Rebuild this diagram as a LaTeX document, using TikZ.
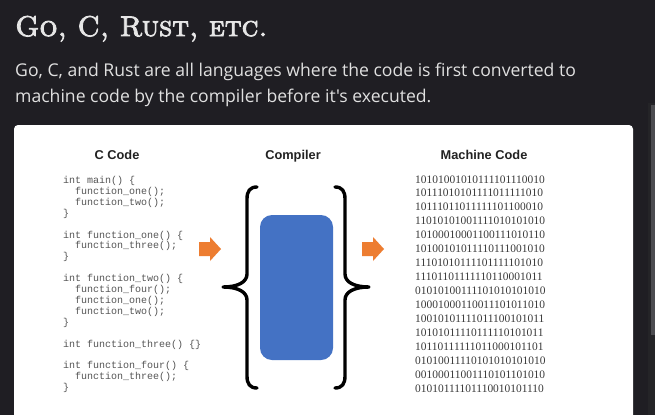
\documentclass[tikz,border=0pt]{standalone}
\usepackage{fontspec}
\newfontfamily\titlefont{lmromancaps10-regular}[Extension=.otf,FakeBold=3]
\newfontfamily\subfont{Open Sans}
\newfontfamily\headfont{Liberation Sans}
\newfontfamily\codefont{Liberation Mono}
\newfontfamily\binfont{Liberation Serif}
\definecolor{bgc}{HTML}{1F1E23}
\definecolor{titlec}{HTML}{E6E6E6}
\definecolor{subc}{HTML}{E0E0E0}
\definecolor{headc}{HTML}{222222}
\definecolor{codec}{HTML}{555555}
\definecolor{binc}{HTML}{3A3A3A}
\definecolor{bluec}{HTML}{4472C4}
\definecolor{orangec}{HTML}{ED7D31}
\definecolor{barc}{HTML}{242427}
\definecolor{thumbc}{HTML}{4C4C50}
\tikzset{
  head/.style={anchor=base, inner sep=0pt, text=headc, font=\headfont\bfseries\fontsize{12.8}{14}\selectfont},
  code/.style={anchor=base west, inner sep=0pt, text=codec, font=\codefont\fontsize{10}{11}\selectfont},
  bin/.style={anchor=base west, inner sep=0pt, text=binc, font=\binfont\fontsize{11.45}{13}\selectfont},
  subline/.style={anchor=base west, inner sep=0pt, text=subc, font=\subfont\fontsize{17.6}{20}\selectfont},
  bracestroke/.style={line width=3.4pt, line join=round, line cap=round},
  blockarrow/.style={fill=orangec}
}
\begin{document}
\begin{tikzpicture}[x=1pt,y=-1pt]
\useasboundingbox (0,0) rectangle (655,415);
\clip (0,0) rectangle (655,415);
\fill[bgc] (0,0) rectangle (655,415);
% scrollbar
\fill[barc] (648,103) rectangle (655,415);
\fill[thumbc] (651,105) rectangle (655,335);
% card
\fill[white, rounded corners=4pt] (14,125) rectangle (633,440);

% title and subtitle
\node[anchor=base west, inner sep=0pt, text=titlec, font=\titlefont\fontsize{28.5}{34}\selectfont] (title) at (15,36)
  {Go, C, Rust, etc.};
\node[subline] (sub1) at (15,76) {Go, C, and Rust are all languages where the code is first converted to};
\node[subline] (sub2) at (15,102) {machine code by the compiler before it's executed.};

% headings
\node[head] (hc) at (117,159) {C Code};
\node[head] (hcomp) at (293,159) {Compiler};
\node[head] (hm) at (484,159) {Machine Code};

% C code
\node[code] (c0) at (63,183.5) {int main() \{};
\node[code] (c1) at (75,194.4) {function\_one();};
\node[code] (c2) at (75,205.3) {function\_two();};
\node[code] (c3) at (63,216.2) {\}};
\node[code] (c5) at (63,238.0) {int function\_one() \{};
\node[code] (c6) at (75,248.9) {function\_three();};
\node[code] (c7) at (63,259.8) {\}};
\node[code] (c9) at (63,281.6) {int function\_two() \{};
\node[code] (c10) at (75,292.5) {function\_four();};
\node[code] (c11) at (75,303.4) {function\_one();};
\node[code] (c12) at (75,314.3) {function\_two();};
\node[code] (c13) at (63,325.2) {\}};
\node[code] (c15) at (63,347.0) {int function\_three() \{\}};
\node[code] (c17) at (63,368.8) {int function\_four() \{};
\node[code] (c18) at (75,379.7) {function\_three();};
\node[code] (c19) at (63,390.6) {\}};

% arrows
\fill[blockarrow] (199,242) -- (210,242) -- (210,237) -- (221,249) -- (210,261) -- (210,256) -- (199,256) -- cycle;
\fill[blockarrow] (362,242) -- (373,242) -- (373,237) -- (384,249) -- (373,261) -- (373,256) -- (362,256) -- cycle;

% compiler braces and block
\draw[bracestroke] (257,187) .. controls (250,187) and (247,191) .. (247,199) -- (247,274)
  .. controls (247,282) and (238,287) .. (223,287)
  .. controls (238,287) and (247,292) .. (247,300) -- (247,376)
  .. controls (247,384) and (250,388) .. (257,388);
\draw[bracestroke] (335,187) .. controls (342,187) and (345,191) .. (345,199) -- (345,274)
  .. controls (345,282) and (354,287) .. (369,287)
  .. controls (354,287) and (345,292) .. (345,300) -- (345,376)
  .. controls (345,384) and (342,388) .. (335,388);
\node[fill=bluec, rounded corners=12pt, minimum width=73pt, minimum height=145pt, inner sep=0pt] (box) at (296.5,287.5) {};

% machine code
\node[bin] (b0) at (415,183.0) {10101001010111101110010};
\node[bin] (b1) at (415,196.9) {10111010101111011111010};
\node[bin] (b2) at (415,210.9) {10111011011111101100010};
\node[bin] (b3) at (415,224.8) {11010101001111010101010};
\node[bin] (b4) at (415,238.7) {10100010001100111010110};
\node[bin] (b5) at (415,252.7) {10100101011110111001010};
\node[bin] (b6) at (415,266.6) {11101010111101111101010};
\node[bin] (b7) at (415,280.5) {11101101111110110001011};
\node[bin] (b8) at (415,294.4) {01010100111101010101010};
\node[bin] (b9) at (415,308.4) {10001000110011101011010};
\node[bin] (b10) at (415,322.3) {10010101111011100101011};
\node[bin] (b11) at (415,336.2) {10101011110111110101011};
\node[bin] (b12) at (415,350.2) {10110111111011000101101};
\node[bin] (b13) at (415,364.1) {01010011110101010101010};
\node[bin] (b14) at (415,378.0) {00100011001110101101010};
\node[bin] (b15) at (415,392.0) {01010111101110010101110};
\end{tikzpicture}
\end{document}
